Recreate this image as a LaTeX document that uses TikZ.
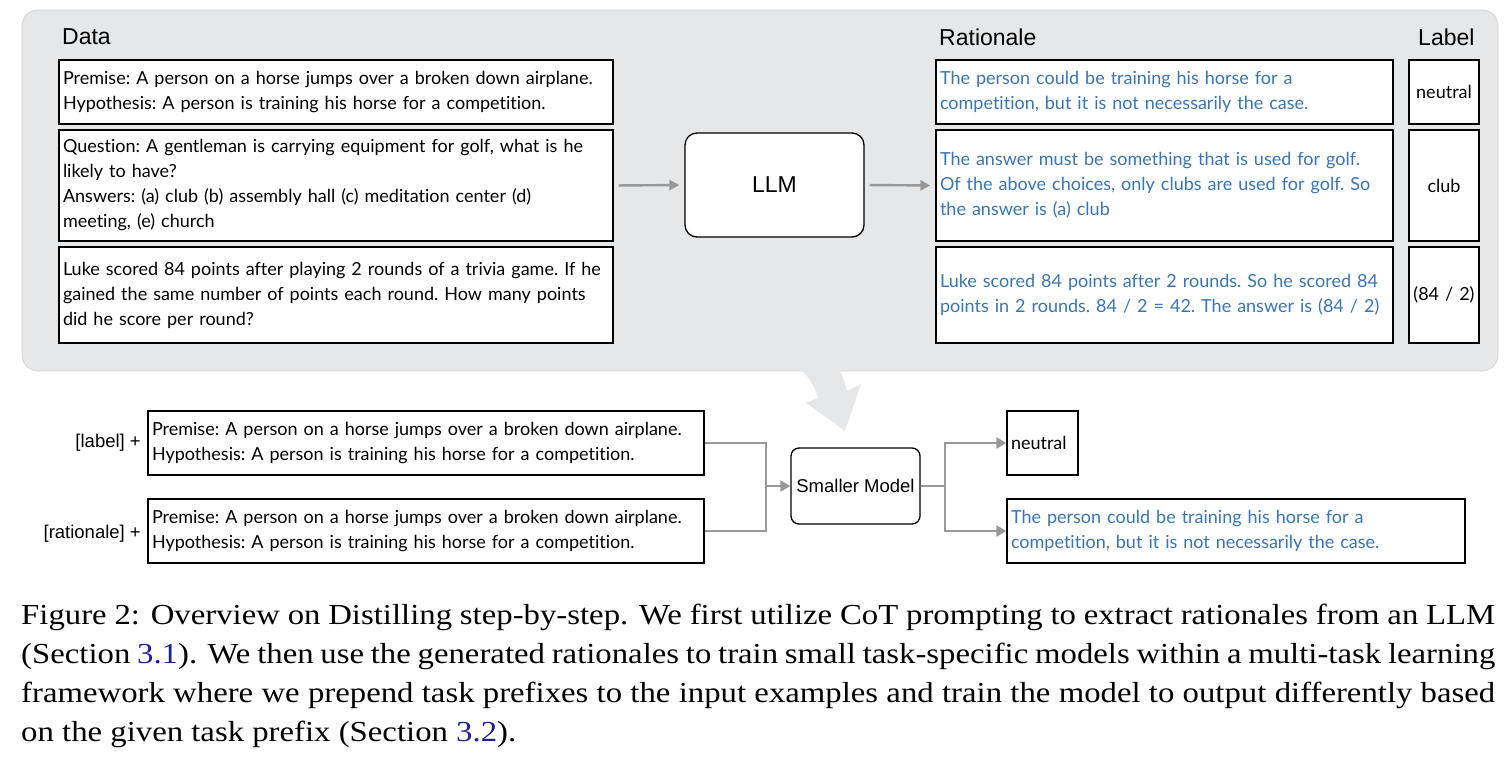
\documentclass[tikz,border=0pt]{standalone}
\usepackage{fontspec}
\setmainfont{Liberation Serif}[FakeStretch=1.13]
\newfontfamily\bodyf{Lato}[Ligatures={NoCommon}]
\newfontfamily\headf{Liberation Sans}
\usetikzlibrary{arrows.meta}
\definecolor{panelgray}{RGB}{230,231,232}
\definecolor{paneledge}{RGB}{212,213,214}
\definecolor{ratblue}{RGB}{59,118,176}
\definecolor{linkblue}{RGB}{30,30,150}
\definecolor{conngray}{RGB}{153,153,153}
\newcommand{\boxtextfont}{\bodyf\fontsize{18}{25}\selectfont\frenchspacing}
\newcommand{\capline}[1]{\makebox[1474pt][s]{#1}}
\hyphenpenalty=10000
\begin{document}
\begin{tikzpicture}[x=1pt,y=-1pt,
  txtbox/.style={draw=black, fill=white, line width=1.3pt, inner xsep=4pt, inner ysep=0pt,
    align=left, font=\boxtextfont},
  ratbox/.style={txtbox, text=ratblue},
  labbox/.style={txtbox, align=center, inner xsep=2pt},
  rndbox/.style={draw=black, fill=white, line width=1.3pt, font=\headf\fontsize{23}{28}\selectfont},
  hdr/.style={inner sep=0pt, font=\headf\fontsize{23}{28}\selectfont, anchor=west},
  pfxlabel/.style={inner sep=0pt, font=\headf\fontsize{18.5}{22}\selectfont, anchor=east},
  toparrow/.style={draw=conngray, line width=2.4pt, -{Triangle[length=10pt,width=10pt]},
    shorten <=5pt, shorten >=5pt},
  connline/.style={draw=conngray, line width=2.8pt},
  connarrow/.style={connline, -{Triangle[length=10pt,width=11pt]}}
]
\useasboundingbox (0,0) rectangle (1511,771);

% background panel
\filldraw[fill=panelgray, draw=paneledge, line width=0.8pt, rounded corners=16pt] (22,10) rectangle (1498,371);
% big curved arrow
\fill[panelgray] (799,368) .. controls (810,378) and (816,388) .. (818,398) -- (806,403) -- (845,431) -- (861,384) -- (847,391) .. controls (845,382) and (842,375) .. (839,368) -- cycle;

% headers
\node[hdr] (hdata) at (62,37) {Data};
\node[hdr] (hrat) at (939,37) {Rationale};
\node[hdr] (hlab) at (1418,37) {Label};

% data boxes
\node[txtbox, minimum width=554, minimum height=64, text width=546] (d1) at (336,92)
  {Premise: A person on a horse jumps over a broken down airplane.\\Hypothesis: A person is training his horse for a competition.};
\node[txtbox, minimum width=554, minimum height=111, text width=546] (d2) at (336,185.5)
  {Question: A gentleman is carrying equipment for golf, what is he\\likely to have?\\Answers: (a) club (b) assembly hall (c) meditation center (d)\\meeting, (e) church};
\node[txtbox, minimum width=554, minimum height=96, text width=546] (d3) at (336,295)
  {Luke scored 84 points after playing 2 rounds of a trivia game. If he\\gained the same number of points each round. How many points\\did he score per round?};

% LLM
\node[rndbox, rounded corners=12pt, minimum width=179, minimum height=104] (llm) at (774.5,185) {LLM};

% rationale boxes
\node[ratbox, minimum width=457, minimum height=64, text width=449] (r1) at (1164.5,92)
  {The person could be training his horse for a\\competition, but it is not necessarily the case.};
\node[ratbox, minimum width=457, minimum height=111, text width=449] (r2) at (1164.5,185.5)
  {The answer must be something that is used for golf.\\Of the above choices, only clubs are used for golf. So\\the answer is (a) club};
\node[ratbox, minimum width=457, minimum height=96, text width=449] (r3) at (1164.5,295)
  {Luke scored 84 points after 2 rounds. So he scored 84\\points in 2 rounds. 84 / 2 = 42. The answer is (84 / 2)};

% label boxes
\node[labbox, minimum width=70, minimum height=64, text width=66] (l1) at (1444,92) {neutral};
\node[labbox, minimum width=70, minimum height=111, text width=66] (l2) at (1444,185.5) {club};
\node[labbox, minimum width=70, minimum height=96, text width=66] (l3) at (1444,295) {(84 / 2)};

% top arrows
\draw[toparrow] (d2.east) -- (llm.west);
\draw[toparrow] (llm.east) -- (r2.west);

% bottom part
\node[pfxlabel] (p1) at (141,443) {[label] +};
\node[pfxlabel] (p2) at (141,534) {[rationale] +};
\node[txtbox, minimum width=556, minimum height=64, text width=548] (in1) at (426,443)
  {Premise: A person on a horse jumps over a broken down airplane.\\Hypothesis: A person is training his horse for a competition.};
\node[txtbox, minimum width=556, minimum height=64, text width=548] (in2) at (426,531)
  {Premise: A person on a horse jumps over a broken down airplane.\\Hypothesis: A person is training his horse for a competition.};
\node[rndbox, rounded corners=8pt, minimum width=129, minimum height=76, inner xsep=2pt,
  font=\headf\fontsize{18.5}{22}\selectfont] (sm) at (855.5,486) {Smaller Model};
\node[txtbox, minimum width=71, minimum height=64, text width=63] (o1) at (1042.5,443) {neutral};
\node[ratbox, minimum width=458, minimum height=64, text width=450] (o2) at (1236,531)
  {The person could be training his horse for a\\competition, but it is not necessarily the case.};

\coordinate (jin) at (766,486);
\coordinate (jout) at (945,486);
\draw[connline] (in1.east) -| (jin);
\draw[connline] (in2.east) -| (jin);
\draw[connarrow] (jin) -- (sm.west);
\draw[connline] (sm.east) -- (jout);
\draw[connarrow] (jout) |- (o1.west);
\draw[connarrow] (jout) |- (o2.west);

% caption
\node[anchor=north west, inner sep=0pt, align=left,
  font=\fontsize{29}{39}\selectfont] (cap) at (21,604)
  {\capline{Figure 2: Overview on Distilling step-by-step. We first utilize CoT prompting to extract rationales from an LLM}\\
  \capline{(Section \textcolor{linkblue}{3.1}). We then use the generated rationales to train small task-specific models within a multi-task learning}\\
  \capline{framework where we prepend task prefixes to the input examples and train the model to output differently based}\\
  on the given task prefix (Section \textcolor{linkblue}{3.2}).};
\end{tikzpicture}
\end{document}
